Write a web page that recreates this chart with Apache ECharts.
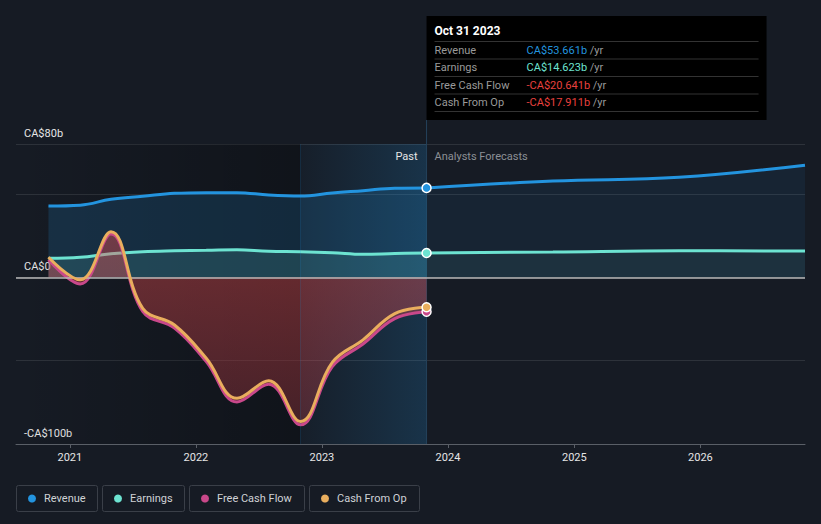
<!DOCTYPE html>
<html>
<head>
<meta charset="utf-8">
<script src="https://cdn.jsdelivr.net/npm/echarts@6/dist/echarts.min.js"></script>
<style>
html,body{margin:0;padding:0;background:#161b24;}
#c{width:821px;height:524px;}
</style>
</head>
<body>
<div id="c"></div>
<script>
// ---------- data ----------
const pastDates = ['2020-10-31','2021-01-31','2021-04-30','2021-07-31','2021-10-31','2022-01-31','2022-04-30','2022-07-31','2022-10-31','2023-01-31','2023-04-30','2023-07-31','2023-10-31'];
const revenuePast  = [42.8, 43.3, 46.8, 48.6, 50.4, 50.8, 50.8, 49.4, 48.8, 50.6, 52.0, 53.5, 53.661];
const earningsPast = [11.4, 12.0, 14.2, 15.4, 15.9, 16.2, 16.6, 15.6, 15.4, 14.8, 13.8, 14.3, 14.623];
const fcfPast      = [10.5, -4.0, 26.0, -20.5, -30.5, -50.5, -74.8, -64.2, -88.5, -53.5, -40.0, -24.8, -20.641];
const cfoPast      = [12.0, -1.5, 27.4, -18.6, -28.6, -48.6, -72.6, -62.0, -86.5, -51.0, -37.5, -21.8, -17.911];
const forecastDates    = ['2023-10-31','2024-10-31','2025-10-31','2026-10-31'];
const revenueForecast  = [53.661, 57.8, 60.0, 67.3];
const earningsForecast = [14.623, 15.2, 15.9, 15.8];
const yTickLabels = {'80':'CA$80b', '0':'CA$0', '-100':'-CA$100b'};
const legendNames = ['Revenue','Earnings','Free Cash Flow','Cash From Op'];
const tooltipTitle = 'Oct 31 2023';
const tooltipValues = ['CA$53.661b','CA$14.623b','-CA$20.641b','-CA$17.911b'];
const axisStart = '2020-07-29';
const axisEnd = '2026-10-31';
const nowDate = '2023-10-31';
const yearAgoDate = '2022-10-31';

// ---------- styles ----------
const C_REV = '#2394df', C_EARN = '#6de3d1', C_FCF = '#c9488a', C_CFO = '#e9ae5e';
const seriesColors = [C_REV, C_EARN, C_FCF, C_CFO];
const valueColors = [C_REV, C_EARN, '#e8413e', '#e8413e'];
const FONT = 'Roboto, "Noto Sans", sans-serif';

function pairs(dates, vals, markLast, color) {
  return dates.map((d, i) => {
    if (markLast && i === dates.length - 1) {
      return { value: [d, vals[i]], symbol: 'circle', symbolSize: 9,
        itemStyle: { color: color, borderColor: '#ffffff', borderWidth: 1.5 } };
    }
    return { value: [d, vals[i]], symbol: 'none' };
  });
}

const chart = echarts.init(document.getElementById('c'), null, { renderer: 'svg' });

const lineBase = { type: 'line', smooth: 0.4, showSymbol: true, showAllSymbol: true, symbol: 'none', animation: false, silent: true };

const option = {
  backgroundColor: '#161b24',
  animation: false,
  grid: { left: 16, right: 16, top: 144, bottom: 80, containLabel: false },
  xAxis: {
    type: 'time', min: axisStart, max: axisEnd, splitNumber: 6,
    axisLine: { onZero: false, lineStyle: { color: '#5a5f67', width: 1 } },
    axisTick: { show: true, length: 4, lineStyle: { color: '#5a5f67' } },
    axisLabel: { color: '#e6e6e6', fontSize: 11, fontFamily: FONT, margin: 8, formatter: '{yyyy}', showMinLabel: false, showMaxLabel: false },
    splitLine: { show: false }
  },
  yAxis: {
    type: 'value', min: -100, max: 80, interval: 50,
    axisLine: { show: false }, axisTick: { show: false },
    splitLine: { lineStyle: { color: '#2d323a', width: 1 } },
    axisLabel: {
      inside: true, margin: 8, color: '#e6e6e6', fontSize: 11, fontFamily: FONT,
      verticalAlign: 'bottom', padding: [0, 0, 5, 0],
      formatter: v => (yTickLabels[String(v)] !== undefined ? yTickLabels[String(v)] : '')
    }
  },
  series: [
    Object.assign({}, lineBase, {
      name: 'bg', z: 1, data: [],
      markArea: {
        silent: true,
        data: [
          [{ xAxis: axisStart, itemStyle: { color: new echarts.graphic.LinearGradient(0, 0, 1, 0, [
              { offset: 0, color: 'rgba(0,0,0,0)' }, { offset: 1, color: 'rgba(0,0,0,0.28)' }]) } },
           { xAxis: yearAgoDate }],
          [{ xAxis: yearAgoDate, itemStyle: { color: new echarts.graphic.LinearGradient(0, 0, 1, 0, [
              { offset: 0, color: 'rgba(35,148,223,0.03)' }, { offset: 1, color: 'rgba(35,148,223,0.2)' }]) } },
           { xAxis: nowDate }]
        ]
      },
      markLine: { silent: true, symbol: 'none', label: { show: false },
        lineStyle: { color: 'rgba(35,148,223,0.16)', width: 1, type: 'solid' },
        data: [{ xAxis: yearAgoDate }] }
    }),
    Object.assign({}, lineBase, {
      name: 'Revenue', z: 2, data: pairs(pastDates, revenuePast, true, C_REV),
      lineStyle: { color: C_REV, width: 3 }, itemStyle: { color: C_REV },
      areaStyle: { color: 'rgba(35,148,223,0.25)', origin: 0 }
    }),
    Object.assign({}, lineBase, {
      name: 'RevenueF', z: 2, data: pairs(forecastDates, revenueForecast, false),
      lineStyle: { color: C_REV, width: 3 }, itemStyle: { color: C_REV },
      areaStyle: { color: 'rgba(35,148,223,0.12)', origin: 0 }
    }),
    Object.assign({}, lineBase, {
      name: 'Earnings', z: 2, data: pairs(pastDates, earningsPast, true, C_EARN),
      lineStyle: { color: C_EARN, width: 3 }, itemStyle: { color: C_EARN },
      areaStyle: { color: 'rgba(108,229,211,0.2)', origin: 0 }
    }),
    Object.assign({}, lineBase, {
      name: 'EarningsF', z: 2, data: pairs(forecastDates, earningsForecast, false),
      lineStyle: { color: C_EARN, width: 3 }, itemStyle: { color: C_EARN },
      areaStyle: { color: 'rgba(108,229,211,0.1)', origin: 0 }
    }),
    Object.assign({}, lineBase, {
      name: 'zero', z: 3, data: [],
      markLine: { silent: true, symbol: 'none', label: { show: false },
        lineStyle: { color: '#b8b8b8', width: 1.5, type: 'solid' },
        data: [{ yAxis: 0 }] }
    }),
    Object.assign({}, lineBase, {
      name: 'Free Cash Flow', z: 4, data: pairs(pastDates, fcfPast, true, C_FCF),
      lineStyle: { color: C_FCF, width: 3 }, itemStyle: { color: C_FCF },
      areaStyle: { origin: 0, color: new echarts.graphic.LinearGradient(0, 0, 0, 1, [
        { offset: 0, color: 'rgba(238,78,78,0.6)' }, { offset: 1, color: 'rgba(228,70,80,0.36)' }]) }
    }),
    Object.assign({}, lineBase, {
      name: 'Cash From Op', z: 5, data: pairs(pastDates, cfoPast, true, C_CFO),
      lineStyle: { color: C_CFO, width: 3 }, itemStyle: { color: C_CFO }
    })
  ]
};
chart.setOption(option);

// ---------- overlays (tooltip box, labels, legend) ----------
const parseT = d => echarts.number.parseDate(d).getTime();
const xNow = chart.convertToPixel({ xAxisIndex: 0 }, parseT(nowDate));
const yBottom = chart.convertToPixel({ yAxisIndex: 0 }, -100);
const yTop = chart.convertToPixel({ yAxisIndex: 0 }, 80);

const g = [];
// vertical "now" line (kept beneath the series)
g.push({ type: 'line', silent: true, z: 1, zlevel: 0, shape: { x1: xNow, y1: 120, x2: xNow, y2: yBottom }, style: { stroke: '#24425c', lineWidth: 1 } });
// Past / Analysts Forecasts
g.push({ type: 'text', z: 50, style: { x: xNow - 9, y: yTop + 12, text: 'Past', fill: '#e6e6e6', font: '11px ' + FONT, textAlign: 'right', textVerticalAlign: 'middle' } });
g.push({ type: 'text', z: 50, style: { x: xNow + 8, y: yTop + 12, text: 'Analysts Forecasts', fill: '#8c9096', font: '11px ' + FONT, textAlign: 'left', textVerticalAlign: 'middle' } });

// tooltip box
const tipW = 340, tipTop = 16, tipH = 104;
g.push({ type: 'rect', z: 60, shape: { x: xNow, y: tipTop, width: tipW, height: tipH }, style: { fill: '#000000' } });
g.push({ type: 'text', z: 61, style: { x: xNow + 8, y: tipTop + 15, text: tooltipTitle, fill: '#ffffff', font: 'bold 12px ' + FONT, textVerticalAlign: 'middle' } });
const sepY = [41, 58.5, 76, 93.5, 111];
sepY.forEach(y => g.push({ type: 'line', z: 61, shape: { x1: xNow + 8, y1: y + 0.5, x2: xNow + tipW - 8, y2: y + 0.5 }, style: { stroke: '#333333', lineWidth: 1 } }));
legendNames.forEach((name, i) => {
  const cy = (sepY[i] + sepY[i + 1]) / 2 + 0.5;
  g.push({ type: 'text', z: 61, style: { x: xNow + 8, y: cy, text: name, fill: '#9a9a9a', font: '11px ' + FONT, textVerticalAlign: 'middle' } });
  g.push({ type: 'text', z: 61, style: { x: xNow + 100, y: cy, text: '{v|' + tooltipValues[i] + '}{u| /yr}', textVerticalAlign: 'middle',
    rich: { v: { fill: valueColors[i], font: '11px ' + FONT }, u: { fill: '#9a9a9a', font: '11px ' + FONT } } } });
});

// legend
const boxW = [81, 82, 115, 110];
let lx = 16;
legendNames.forEach((name, i) => {
  g.push({ type: 'rect', z: 50, shape: { x: lx + 0.5, y: 485.5, width: boxW[i], height: 26, r: 2 }, style: { fill: 'transparent', stroke: '#3a3f48', lineWidth: 1 } });
  g.push({ type: 'circle', z: 51, shape: { cx: lx + 16, cy: 498.5, r: 4 }, style: { fill: seriesColors[i] } });
  g.push({ type: 'text', z: 51, style: { x: lx + 28, y: 498.5, text: name, fill: '#cfd2d6', font: '11px ' + FONT, textVerticalAlign: 'middle' } });
  lx += boxW[i] + 5;
});

chart.setOption({ graphic: g });
</script>
</body>
</html>
